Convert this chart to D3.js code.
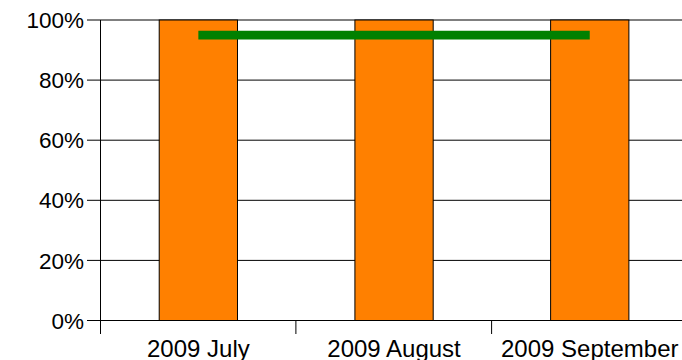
<!DOCTYPE html>
<html>
<head>
<meta charset="utf-8">
<script src="https://cdn.jsdelivr.net/npm/d3@7"></script>
<style>
  html, body { margin: 0; padding: 0; background: #fff; overflow: hidden; }
  svg { display: block; }
</style>
</head>
<body>
<script>
const categories = ["2009 July", "2009 August", "2009 September"];
const barValues = [100, 100, 100];
const lineValues = [95, 95, 95];
const yTicks = [0, 20, 40, 60, 80, 100];

const W = 682, H = 360;
const svg = d3.select("body").append("svg").attr("width", W).attr("height", H);

const x = d3.scaleBand().domain(categories).range([100.5, 687.6]).paddingInner(0).paddingOuter(0);
const y = d3.scaleLinear().domain([0, 100]).range([320.5, 20]);

const font = "'Liberation Sans', Arial, sans-serif";

// gridlines (behind bars)
svg.append("g").selectAll("line").data(yTicks).join("line")
  .attr("x1", 87).attr("x2", 690)
  .attr("y1", d => y(d)).attr("y2", d => y(d))
  .attr("stroke", "#000").attr("stroke-width", 1);

// y labels
svg.append("g").selectAll("text").data(yTicks).join("text")
  .attr("x", 84).attr("y", d => y(d)).attr("dy", "0.36em")
  .attr("text-anchor", "end")
  .attr("font-family", font).attr("font-size", "22.5px").attr("fill", "#000")
  .text(d => d + "%");

// bars
const bw = x.bandwidth() * 0.4;
svg.append("g").selectAll("rect").data(categories).join("rect")
  .attr("x", (d) => x(d) + x.bandwidth() / 2 - bw / 2)
  .attr("width", bw)
  .attr("y", (d, i) => y(barValues[i]))
  .attr("height", (d, i) => y(0) - y(barValues[i]))
  .attr("fill", "#FF8000").attr("stroke", "#000").attr("stroke-width", 1);

// y axis line
svg.append("line").attr("x1", 100.5).attr("x2", 100.5).attr("y1", 20).attr("y2", 334)
  .attr("stroke", "#000").attr("stroke-width", 1);

// x ticks between categories
svg.append("g").selectAll("line").data(categories.slice(1)).join("line")
  .attr("x1", d => x(d) - 0.3).attr("x2", d => x(d) - 0.3)
  .attr("y1", y(0)).attr("y2", 334)
  .attr("stroke", "#000").attr("stroke-width", 1);

// x labels
svg.append("g").selectAll("text").data(categories).join("text")
  .attr("x", d => x(d) + x.bandwidth() / 2).attr("y", 356.5)
  .attr("text-anchor", "middle")
  .attr("font-family", font).attr("font-size", "24px").attr("fill", "#000")
  .text(d => d);

// green line
const line = d3.line().x((d, i) => x(categories[i]) + x.bandwidth() / 2).y(d => y(d));
svg.append("path").datum(lineValues).attr("d", line)
  .attr("fill", "none").attr("stroke", "#008000").attr("stroke-width", 8.7);
</script>
</body>
</html>
